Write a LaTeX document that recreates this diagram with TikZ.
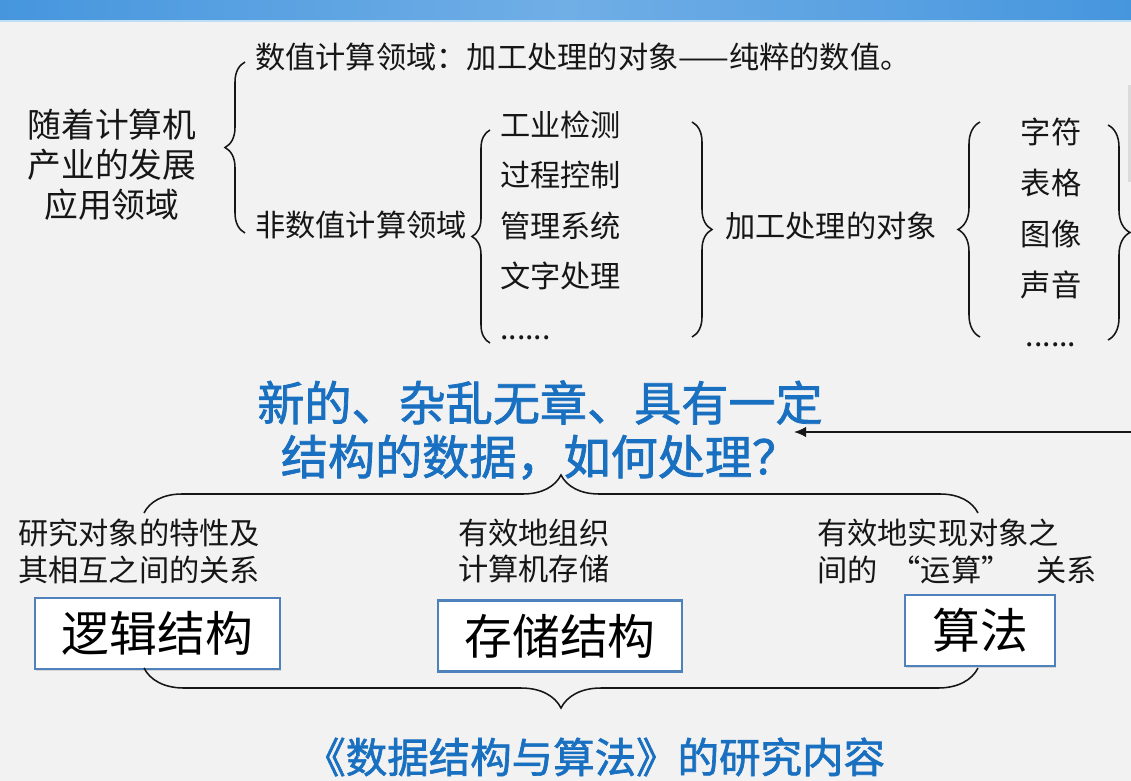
\documentclass[tikz,border=0pt]{standalone}
\usepackage{fontspec}
\setmainfont{Noto Sans CJK SC}
\newfontfamily\ttlfont{Noto Sans CJK SC}[FakeBold=1.6]
\usetikzlibrary{arrows.meta,positioning,decorations.pathreplacing,shadows}
\definecolor{clrBg}{RGB}{242,242,242}
\definecolor{clrBar}{RGB}{70,150,222}
\definecolor{clrBarL}{RGB}{112,174,230}
\definecolor{clrLine}{RGB}{190,222,245}
\definecolor{clrT}{RGB}{26,112,192}
\definecolor{clrBox}{RGB}{79,129,189}
\definecolor{clrK}{RGB}{22,22,22}

\begin{document}
\begin{tikzpicture}[x=0.025cm,y=-0.025cm,inner sep=0pt,
  txt/.style={font=\fontsize{21.5pt}{26.3pt}\selectfont,text=clrK},
  hd/.style={font=\fontsize{33.5pt}{38.3pt}\selectfont\ttlfont,text=clrT},
  brc/.style={decorate,decoration={brace,amplitude=#1},line width=1.1pt,clrK},
  box/.style={draw=clrBox,line width=1.6pt,fill=white,minimum height=1.78cm,
    font=\fontsize{34pt}{40pt}\selectfont,text=black,
    drop shadow={shadow xshift=1pt,shadow yshift=-1pt,opacity=0.25}}]
  \useasboundingbox (0,0) rectangle (1131,781);

  % slide background
  \fill[clrBg] (0,0) rectangle (1131,781);
  \shade[left color=clrBar,right color=clrBar,middle color=clrBarL] (0,0) rectangle (1131,20);
  \fill[clrLine] (0,20) rectangle (1131,22);
  \fill[black!14] (1128,85) rectangle (1131,182);

  % application fields
  \node[txt,font=\fontsize{24pt}{28.5pt}\selectfont,align=center] (dev) at (112,165)
    {随着计算机\\产业的发展\\应用领域};
  \node[txt,anchor=west] (num) at (255,57) {数值计算领域：加工处理的对象——纯粹的数值。};
  \node[txt,anchor=west] (nonnum) at (255,225) {非数值计算领域};
  \draw[brc=5mm] (245,233) -- (245,62);

  % non-numeric uses
  \foreach \y/\t [count=\i] in {125/工业检测,175/过程控制,226/管理系统,276/文字处理}
    \node[txt,anchor=west] (app\i) at (500,\y) {\t};
  \node[txt,anchor=base west] (appdots) at (500,339) {......};
  \draw[brc=4.5mm] (490,343) -- (490,130);
  \draw[brc=5mm] (692,122) -- (692,337);
  \node[txt,anchor=west] (obj) at (725,226) {加工处理的对象};

  % kinds of objects
  \foreach \y/\t [count=\i] in {132/字符,183/表格,234/图像,285/声音}
    \node[txt] (kind\i) at (1051,\y) {\t};
  \node[txt,anchor=base] (kinddots) at (1051,346) {......};
  \draw[brc=5.5mm] (980,337) -- (980,122);
  \draw[brc=5.5mm] (1108,125) -- (1108,340);

  % question
  \node[hd,align=center] (title) at (540,430) {新的、杂乱无章、具有一定\\结构的数据，如何处理？};
  \coordinate (feed) at (1131,432);
  \coordinate (feedend) at (794,432);
  \draw[-{Latex[length=3mm,width=2.6mm]},line width=1.2pt,clrK] (feed) -- (feedend);
  \draw[brc=9.5mm] (144,513) -- (978,513);

  % three aspects
  \node[txt,align=left,anchor=west] (prop) at (18,551) {研究对象的特性及\\其相互之间的关系};
  \node[txt,align=left,anchor=west] (org) at (458,551) {有效地组织\\计算机存储};
  \node[txt,align=left,anchor=west] (op) at (817,551)
    {有效地实现对象之\\间的\makebox[1.43em][r]{“}运算\makebox[1.83em][l]{”}关系};
  \node[box,minimum width=6.125cm] (logic) at (157.5,633.5) {逻辑结构};
  \node[box,minimum width=6.1cm] (store) at (560,636) {存储结构};
  \node[box,minimum width=3.75cm] (algo) at (980,630.5) {算法};
  \draw[brc=10mm] (978,668) -- (144,668);

  \node[hd,font=\fontsize{29.5pt}{36pt}\selectfont\ttlfont,anchor=west] (topic) at (304,757)
    {《数据结构与算法》的研究内容};
\end{tikzpicture}
\end{document}
